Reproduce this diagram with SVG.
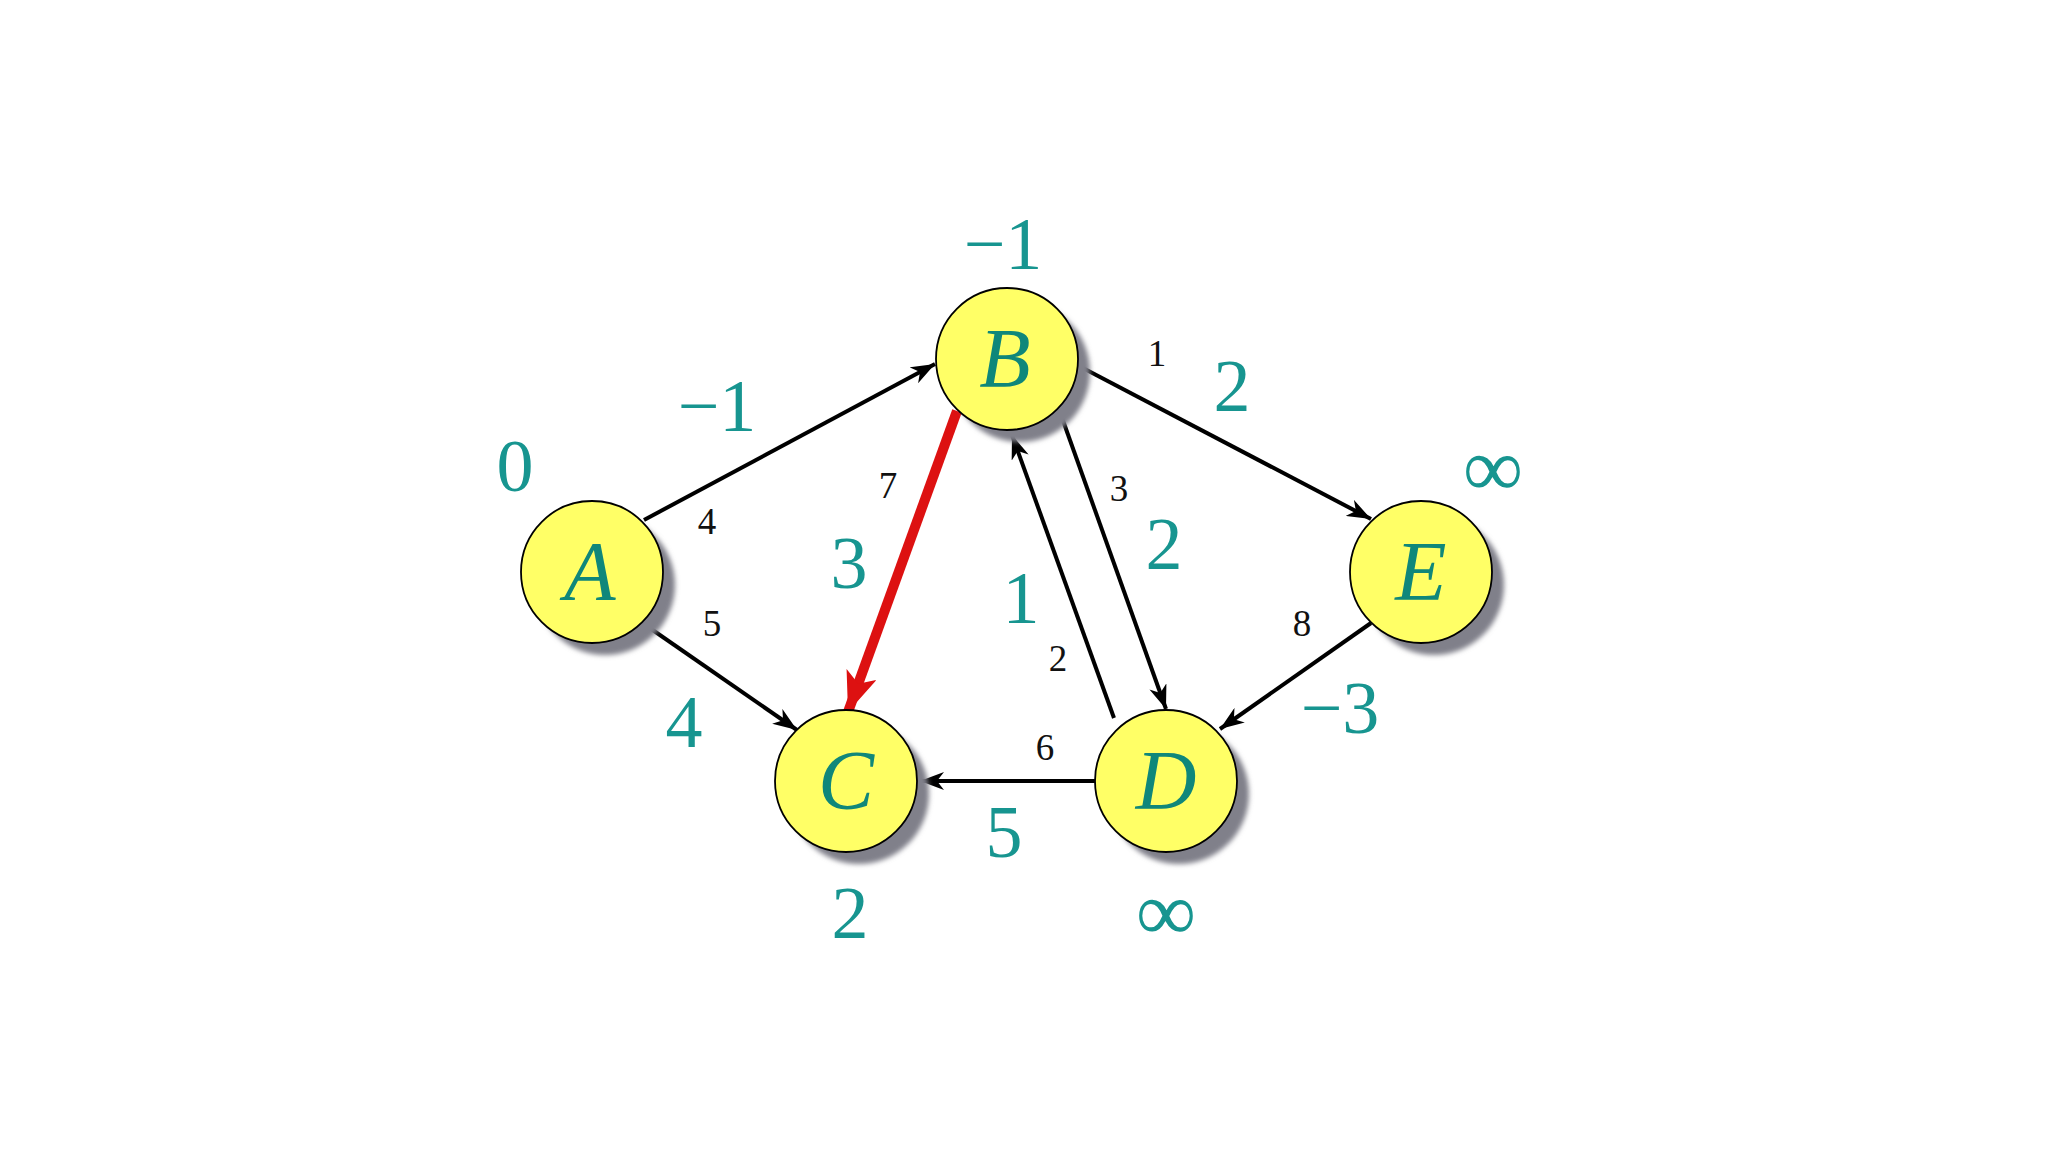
<svg xmlns="http://www.w3.org/2000/svg" width="2048" height="1152" viewBox="0 0 2048 1152">
<defs>
<style>
.node{fill:#FFFF66;stroke:#000;stroke-width:1.8}
.shadow{fill:#80808a;filter:url(#blur)}
.let{font-family:"Liberation Serif",serif;font-style:italic;font-size:84px;fill:#0f877a;text-anchor:middle}
.tl{font-family:"Liberation Serif",serif;font-size:74px;fill:#179590;text-anchor:middle}
.inf{font-family:"Liberation Serif",serif;font-size:84px;fill:#179590;text-anchor:middle}
.bl{font-family:"Liberation Serif",serif;font-size:37px;fill:#111;text-anchor:middle}
.edge{stroke:#000;stroke-width:4;fill:none;marker-end:url(#arr)}
.red{stroke:#dd1111;stroke-width:10;fill:none;marker-end:url(#arrR)}
</style>
<filter id="blur" x="-20%" y="-20%" width="140%" height="140%"><feGaussianBlur stdDeviation="2.5"/></filter>
<marker id="arr" markerUnits="userSpaceOnUse" viewBox="0 0 24 18" refX="24" refY="9" markerWidth="24" markerHeight="18" orient="auto">
<path d="M0,0 L24,9 L0,18 L7,9 z" fill="#000"/>
</marker>
<marker id="arrR" markerUnits="userSpaceOnUse" viewBox="0 0 40 32" refX="40" refY="16" markerWidth="40" markerHeight="32" orient="auto">
<path d="M0,0 L40,16 L0,32 L10,16 z" fill="#dd1111"/>
</marker>
</defs>
<rect width="2048" height="1152" fill="#fff"/>
<g id="connectors">
<line class="edge" x1="644" y1="520" x2="935" y2="364"/>
<line class="edge" x1="644" y1="624" x2="797" y2="730"/>
<line class="edge" x1="1079" y1="366" x2="1371" y2="519"/>
<line class="edge" x1="1061" y1="415" x2="1166" y2="709"/>
<line class="edge" x1="1114" y1="718" x2="1012" y2="435"/>
<line class="edge" x1="1371" y1="623" x2="1220" y2="729"/>
<line class="edge" x1="1095" y1="781" x2="920" y2="781"/>
<line class="red" x1="957" y1="411" x2="848" y2="712"/>
</g>
<g id="node-A">
<circle class="shadow" cx="605" cy="585" r="70"/>
<circle class="node" cx="592" cy="572" r="71"/>
<text class="let" x="590" y="600">A</text>
</g>
<g id="node-B">
<circle class="shadow" cx="1020" cy="372" r="70"/>
<circle class="node" cx="1007" cy="359" r="71"/>
<text class="let" x="1005" y="387">B</text>
</g>
<g id="node-C">
<circle class="shadow" cx="859" cy="794" r="70"/>
<circle class="node" cx="846" cy="781" r="71"/>
<text class="let" x="846" y="809">C</text>
</g>
<g id="node-D">
<circle class="shadow" cx="1179" cy="794" r="70"/>
<circle class="node" cx="1166" cy="781" r="71"/>
<text class="let" x="1166" y="809">D</text>
</g>
<g id="node-E">
<circle class="shadow" cx="1434" cy="585" r="70"/>
<circle class="node" cx="1421" cy="572" r="71"/>
<text class="let" x="1421" y="600">E</text>
</g>
<g id="labels">
<text class="tl" x="515" y="491">0</text>
<text class="tl" x="1003" y="269">−1</text>
<text class="tl" x="717" y="431">−1</text>
<text class="bl" x="707" y="534">4</text>
<text class="bl" x="712" y="636">5</text>
<text class="tl" x="684" y="747">4</text>
<text class="bl" x="888" y="498">7</text>
<text class="tl" x="849" y="588">3</text>
<text class="bl" x="1157" y="366">1</text>
<text class="tl" x="1232" y="411">2</text>
<text class="inf" x="1493" y="496">∞</text>
<text class="bl" x="1119" y="501">3</text>
<text class="tl" x="1164" y="569">2</text>
<text class="tl" x="1021" y="623">1</text>
<text class="bl" x="1058" y="671">2</text>
<text class="bl" x="1302" y="636">8</text>
<text class="tl" x="1340" y="733">−3</text>
<text class="bl" x="1045" y="760">6</text>
<text class="tl" x="1004" y="857">5</text>
<text class="tl" x="850" y="938">2</text>
<text class="inf" x="1166" y="940">∞</text>
</g>
</svg>
